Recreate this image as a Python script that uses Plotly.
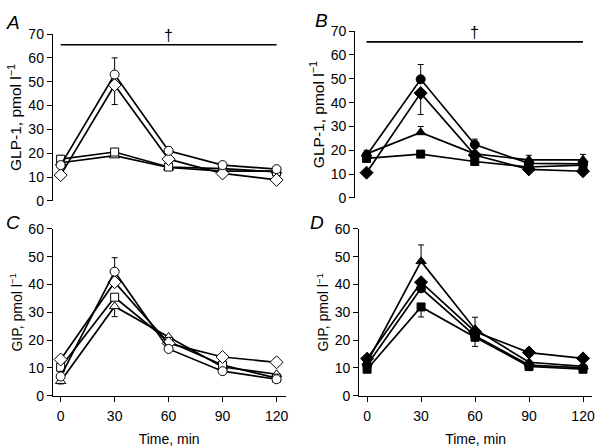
import plotly.graph_objects as go

# ---- data ----
time_min = [0, 30, 60, 90, 120]

# Panel A (GLP-1, open symbols)
a_circle = [15.0, 53.0, 21.0, 15.0, 13.3]
a_diamond = [10.8, 48.6, 17.5, 11.5, 8.8]
a_square = [17.5, 20.5, 14.2, 13.5, 12.2]
a_triangle = [16.0, 19.0, 14.0, 12.5, 12.5]
a_circle_err_up = [1.5, 7.0, 1.5, 1.0, 1.0]
a_diamond_err_dn = [0, 8.2, 0, 0, 0]
a_square_err = [1.5, 1.0, 0.8, 0.8, 0.8]

# Panel B (GLP-1, filled symbols)
b_circle = [17.8, 49.8, 22.4, 14.5, 14.3]
b_diamond = [10.6, 44.0, 18.0, 12.0, 11.2]
b_triangle = [18.5, 27.5, 18.5, 16.0, 16.0]
b_square = [16.6, 18.4, 15.3, 13.0, 13.8]
b_circle_err_up = [1.5, 6.2, 2.3, 1.0, 1.0]
b_diamond_err_dn = [0, 9.0, 0, 0, 0]
b_triangle_err_up = [1.5, 2.5, 1.0, 1.9, 2.3]

# Panel C (GIP, open symbols)
c_circle = [6.9, 44.6, 16.8, 8.8, 5.9]
c_diamond = [13.0, 40.8, 18.8, 13.9, 12.0]
c_square = [10.2, 35.4, 19.5, 11.0, 6.3]
c_triangle = [5.2, 32.1, 21.1, 10.3, 7.7]
c_circle_err_up = [0, 5.0, 0, 0, 0]
c_triangle_err_dn = [1.0, 3.7, 0, 0, 0]

# Panel D (GIP, filled symbols)
d_triangle = [12.0, 48.3, 23.9, 12.0, 10.5]
d_diamond = [13.3, 40.8, 23.0, 15.5, 13.4]
d_circle = [11.0, 38.6, 21.5, 11.0, 10.0]
d_square = [9.5, 31.9, 21.0, 10.5, 9.5]
d_triangle_err_up = [1.0, 5.9, 4.3, 0.5, 0.5]
d_diamond_err_up = [0.8, 0, 0, 1.5, 1.0]
d_square_err_dn = [0.8, 3.6, 3.3, 1.5, 1.0]

# significance bar (dagger) for GLP-1 panels
sig_x = [0, 120]
sig_y = [65.5, 65.5]
dagger_x = 60
dagger_y = 69.5

FONT = "Liberation Sans, Arial, sans-serif"

fig = go.Figure()

def add_series(xa, ya, y, symbol, filled, size, err_plus=None, err_minus=None):
    err = None
    if err_plus is not None or err_minus is not None:
        plus = err_plus if err_plus is not None else [0] * len(y)
        minus = err_minus if err_minus is not None else [0] * len(y)
        err = dict(type="data", symmetric=False, array=plus, arrayminus=minus,
                   color="black", thickness=1, width=3)
    fig.add_trace(go.Scatter(
        x=time_min, y=y, xaxis=xa, yaxis=ya, mode="lines+markers",
        line=dict(color="black", width=1.7),
        marker=dict(symbol=symbol, size=size,
                    color="black" if filled else "white",
                    line=dict(color="black", width=1)),
        error_y=err, showlegend=False, hoverinfo="skip"))

# Panel A
add_series("x", "y", a_triangle, "triangle-up", False, 9)
add_series("x", "y", a_square, "square", False, 8, a_square_err, a_square_err)
add_series("x", "y", a_diamond, "diamond", False, 10, None, a_diamond_err_dn)
add_series("x", "y", a_circle, "circle", False, 9, a_circle_err_up, None)

# Panel B
add_series("x2", "y2", b_square, "square", True, 8)
add_series("x2", "y2", b_triangle, "triangle-up", True, 9, b_triangle_err_up, None)
add_series("x2", "y2", b_diamond, "diamond", True, 10, None, b_diamond_err_dn)
add_series("x2", "y2", b_circle, "circle", True, 9, b_circle_err_up, None)

# Panel C
add_series("x3", "y3", c_triangle, "triangle-up", False, 9, None, c_triangle_err_dn)
add_series("x3", "y3", c_square, "square", False, 8)
add_series("x3", "y3", c_diamond, "diamond", False, 10)
add_series("x3", "y3", c_circle, "circle", False, 9, c_circle_err_up, None)

# Panel D
add_series("x4", "y4", d_square, "square", True, 8, None, d_square_err_dn)
add_series("x4", "y4", d_circle, "circle", True, 9)
add_series("x4", "y4", d_diamond, "diamond", True, 10, d_diamond_err_up, None)
add_series("x4", "y4", d_triangle, "triangle-up", True, 9, d_triangle_err_up, None)

# significance bars
for xa, ya in (("x", "y"), ("x2", "y2")):
    fig.add_trace(go.Scatter(x=sig_x, y=sig_y, xaxis=xa, yaxis=ya, mode="lines",
                             line=dict(color="black", width=1.7),
                             showlegend=False, hoverinfo="skip"))

W, H = 598, 448

def xd(a, b):
    return [a / W, b / W]

def yd(top, bottom):
    return [1 - bottom / H, 1 - top / H]

tickfont = dict(family=FONT, size=14, color="black")

yaxis_common = dict(showline=True, linecolor="black", linewidth=1, ticks="outside",
                    ticklen=5, tickcolor="black", tickwidth=1, showgrid=False,
                    zeroline=False, tickfont=tickfont, dtick=10)
xaxis_top = dict(visible=False, showgrid=False, zeroline=False)
xaxis_bottom = dict(showline=True, linecolor="black", linewidth=1, ticks="outside",
                    ticklen=5, tickcolor="black", tickwidth=1, showgrid=False,
                    zeroline=False, tickfont=tickfont, tickvals=time_min,
                    ticklabelstandoff=3,
                    title=dict(text="Time, min",
                               font=dict(family=FONT, size=14, color="black"),
                               standoff=10))

glp_title = dict(text="GLP-1, pmol l<sup>−1</sup>",
                 font=dict(family=FONT, size=15.5, color="black"), standoff=2)
gip_title = dict(text="GIP, pmol l<sup>−1</sup>",
                 font=dict(family=FONT, size=14, color="black"), standoff=2)

fig.update_layout(
    width=W, height=H, margin=dict(l=0, r=0, t=0, b=0),
    paper_bgcolor="white", plot_bgcolor="white",
    font=dict(family=FONT, color="black"),
    xaxis=dict(domain=xd(53, 287), range=[-4.4, 125], anchor="y", **xaxis_top),
    yaxis=dict(domain=yd(27, 200), range=[0, 70], anchor="x", title=glp_title, **yaxis_common),
    xaxis2=dict(domain=xd(357, 595), range=[-6.3, 125], anchor="y2", **xaxis_top),
    yaxis2=dict(domain=yd(24, 197), range=[0, 70], anchor="x2", title=glp_title, **yaxis_common),
    xaxis3=dict(domain=xd(53, 287), range=[-4.4, 125], anchor="y3", **xaxis_bottom),
    yaxis3=dict(domain=yd(229, 402), range=[0, 60], anchor="x3", title=gip_title, **yaxis_common),
    xaxis4=dict(domain=xd(361, 595), range=[-4.4, 125], anchor="y4", **xaxis_bottom),
    yaxis4=dict(domain=yd(229, 402), range=[0, 60], anchor="x4", title=gip_title, **yaxis_common),
)

# dagger annotations (data coords)
for xa, ya in (("x", "y"), ("x2", "y2")):
    fig.add_annotation(x=dagger_x, y=dagger_y, xref=xa, yref=ya, text="†",
                       showarrow=False, xanchor="center", yanchor="middle",
                       font=dict(family=FONT, size=16, color="#000000"))

# panel letters
for letter, px, py in (("A", 13, 15), ("B", 323, 13), ("C", 13, 222), ("D", 319, 222)):
    fig.add_annotation(x=px / W, y=1 - py / H, xref="paper", yref="paper",
                       text=f"<i>{letter}</i>", showarrow=False,
                       xanchor="center", yanchor="middle",
                       font=dict(family=FONT, size=19, color="black"))

fig.write_html("out.html",
               config={"displayModeBar": False},
               post_script="document.body.style.margin='0';"
                           "document.body.style.overflow='hidden';")
